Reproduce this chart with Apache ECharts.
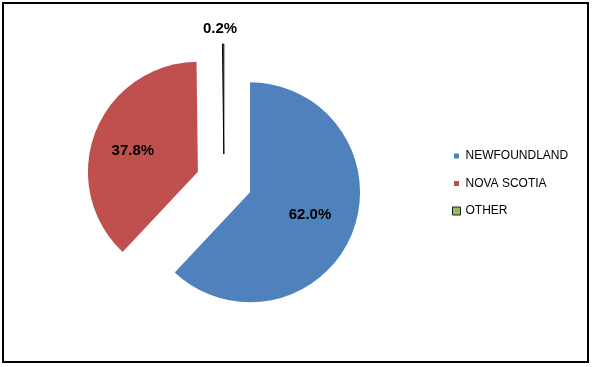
<!DOCTYPE html>
<html>
<head>
<meta charset="utf-8">
<script src="https://cdn.jsdelivr.net/npm/echarts@6/dist/echarts.min.js"></script>
<style>
  html, body { margin: 0; padding: 0; background: #fff; }
  #chart { width: 594px; height: 367px; }
</style>
</head>
<body>
<div id="chart"></div>
<script>
const categories = ['NEWFOUNDLAND', 'NOVA SCOTIA', 'OTHER'];
const shares = [62.0, 37.8, 0.2];
const colors = ['#4F81BD', '#C0504D', '#9BBB59'];

const chart = echarts.init(document.getElementById('chart'), null, { renderer: 'canvas' });

const pieData = categories.map((name, i) => {
  const item = {
    name: name,
    value: shares[i],
    selected: true,
    itemStyle: { color: colors[i] }
  };
  if (i === 2) {
    item.itemStyle.borderColor = '#000';
    item.itemStyle.borderWidth = 1;
    item.label = { position: 'outside' };
    item.labelLine = { show: false, length: 15, length2: 0 };
  }
  return item;
});

const legendData = categories.map((name, i) => ({
  name: name,
  icon: 'rect',
  itemStyle: i === 2
    ? { color: colors[i], borderColor: '#222', borderWidth: 1 }
    : { color: colors[i], borderColor: '#fff', borderWidth: 3 }
}));

const labelShift = [{ dx: 6, dy: 1 }, { dx: -11, dy: 0 }, { align: 'center', dx: 2 }];

chart.setOption({
  animation: false,
  backgroundColor: '#fff',
  graphic: [{
    type: 'rect',
    shape: { x: 3, y: 3, width: 585, height: 359 },
    style: { fill: 'none', stroke: '#000', lineWidth: 2 },
    silent: true
  }],
  legend: {
    orient: 'vertical',
    left: 451,
    top: 150,
    padding: 0,
    itemWidth: 8,
    itemHeight: 8,
    itemGap: 15.5,
    itemTextGap: 5,
    selectedMode: false,
    data: legendData,
    textStyle: { fontFamily: 'Liberation Sans', fontSize: 12, color: '#000' }
  },
  series: [{
    type: 'pie',
    center: [224, 182],
    radius: 110,
    startAngle: 90,
    clockwise: true,
    selectedMode: 'multiple',
    selectedOffset: 28,
    avoidLabelOverlap: false,
    emphasis: { disabled: true },
    label: {
      show: true,
      position: 'inside',
      formatter: p => p.value.toFixed(1) + '%',
      fontFamily: 'Liberation Sans',
      fontWeight: 'bold',
      fontSize: 15,
      color: '#000'
    },
    labelLayout: p => labelShift[p.dataIndex],
    data: pieData
  }]
});
</script>
</body>
</html>
